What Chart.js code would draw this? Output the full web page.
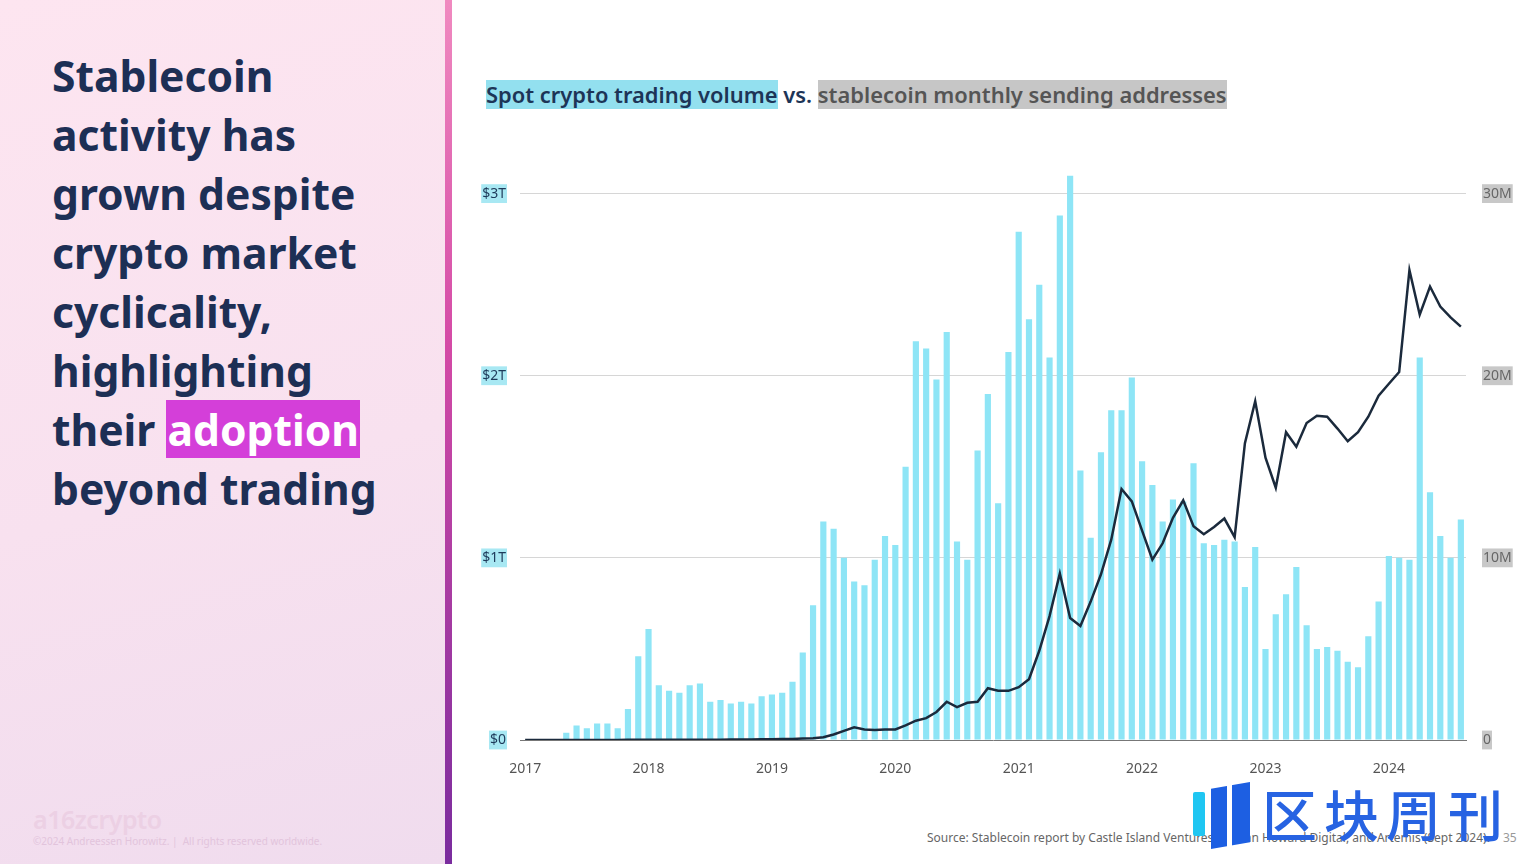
<!DOCTYPE html>
<html>
<head>
<meta charset="utf-8">
<script src="https://cdn.jsdelivr.net/npm/chart.js@4.4.1/dist/chart.umd.min.js"></script>
<style>
  body { margin: 0; width: 1536px; height: 864px; overflow: hidden; background: #fff; font-family: "Noto Sans", sans-serif; position: relative; }
  .left { position: absolute; left: 0; top: 0; width: 445px; height: 864px;
    background: linear-gradient(165deg, #fde5f0 0%, #f8e1ef 55%, #f0dcee 100%); }
  .divider { position: absolute; left: 445px; top: 0; width: 7px; height: 864px;
    background: linear-gradient(to bottom, #f08ac0 0%, #d44aa6 40%, #7a2c9e 100%); }
  .headline { position: absolute; left: 52px; top: 46px; font-size: 42.6px; line-height: 59px; font-weight: 700; color: #1d2f55; }
  .hl { background: #d43fd9; color: #fff; padding: 0 1px; }
  .ctitle { position: absolute; left: 486px; top: 80px; font-size: 21.9px; font-weight: 600; color: #1d3557; white-space: nowrap; }
  .ctitle .a { background: #93e0ef; }
  .ctitle .b { background: #c6c6c6; color: #555; }
  #wrap { position: absolute; left: 470px; top: 153px; width: 1056px; height: 627px; }
  .logo1 { position: absolute; left: 33px; top: 802px; font-size: 25px; font-weight: 600; color: #ecd0e4; letter-spacing: -0.5px; }
  .copy { position: absolute; left: 33px; top: 834px; font-size: 10px; color: #e2c4dc; }
  .source { position: absolute; left: 927px; top: 829px; font-size: 12px; color: #666; white-space: nowrap; }
  .page { position: absolute; left: 1503px; top: 829px; font-size: 12px; color: #999; }
  .wm1 { position: absolute; left: 1193px; top: 792px; width: 12px; height: 44px; background: #1fc6f2; border-radius: 2px; }
  .wm2 { position: absolute; left: 1211px; top: 782px; width: 39px; height: 67px; background: #1d5fe2;
    clip-path: polygon(0 10%, 100% 0, 100% 90%, 0 100%); }
  .wm3 { position: absolute; left: 1227px; top: 780px; width: 5px; height: 72px; background: #fff; }
  .wmt { position: absolute; left: 1262px; top: 772px; font-family: "Noto Sans CJK SC", sans-serif; font-size: 55px; font-weight: 500; color: #2763e2; letter-spacing: 7px; white-space: nowrap; }
</style>
</head>
<body>
<div class="left"></div>
<div class="divider"></div>
<div class="headline">Stablecoin<br>activity has<br>grown despite<br>crypto market<br>cyclicality,<br>highlighting<br>their <span class="hl">adoption</span><br>beyond trading</div>
<div class="logo1">a16zcrypto</div>
<div class="copy">©2024 Andreessen Horowitz. | &nbsp;All rights reserved worldwide.</div>

<div class="ctitle"><span class="a">Spot crypto trading volume</span> vs. <span class="b">stablecoin monthly sending addresses</span></div>
<div id="wrap"><canvas id="canvas" width="1056" height="627"></canvas></div>

<div class="source">Source: Stablecoin report by Castle Island Ventures, Brevan Howard Digital, and Artemis (Sept 2024).</div>
<div class="page">35</div>
<div class="wm1"></div>
<div class="wm2"></div>
<div class="wm3"></div>
<div class="wmt">区块周刊</div>

<script>
// tick labels (one per January)
var years = ['2017', '2018', '2019', '2020', '2021', '2022', '2023', '2024'];

// spot trading volume, $T per month, Jan 2017 - Aug 2024
var volume = [
  0, 0, 0, 0, 0.04, 0.08, 0.065, 0.09, 0.09, 0.065, 0.17, 0.46,
  0.61, 0.30, 0.27, 0.26, 0.30, 0.31, 0.21, 0.22, 0.20, 0.21, 0.20, 0.24,
  0.25, 0.26, 0.32, 0.48, 0.74, 1.20, 1.16, 1.00, 0.87, 0.85, 0.99, 1.12,
  1.07, 1.50, 2.19, 2.15, 1.98, 2.24, 1.09, 0.99, 1.59, 1.90, 1.30, 2.13,
  2.79, 2.31, 2.50, 2.10, 2.88, 3.10, 1.48, 1.11, 1.58, 1.81, 1.81, 1.99,
  1.53, 1.40, 1.20, 1.32, 1.31, 1.52, 1.08, 1.07, 1.10, 1.09, 0.84, 1.06,
  0.50, 0.69, 0.80, 0.95, 0.63, 0.50, 0.51, 0.49, 0.43, 0.40, 0.57, 0.76,
  1.01, 1.00, 0.99, 2.10, 1.36, 1.12, 1.00, 1.21
];

// stablecoin monthly sending addresses, millions
var senders = [
  0, 0, 0, 0, 0, 0, 0, 0, 0, 0, 0.01, 0.01,
  0.01, 0.01, 0.01, 0.02, 0.02, 0.02, 0.02, 0.02, 0.03, 0.03, 0.03, 0.04,
  0.04, 0.05, 0.06, 0.08, 0.10, 0.15, 0.30, 0.50, 0.70, 0.58, 0.55, 0.57,
  0.58, 0.80, 1.06, 1.20, 1.54, 2.10, 1.80, 2.04, 2.10, 2.84, 2.70, 2.70,
  2.90, 3.34, 4.90, 6.80, 9.14, 6.70, 6.26, 7.60, 9.10, 11.0, 13.78, 13.1,
  11.5, 9.9, 10.8, 12.2, 13.16, 11.74, 11.3, 11.7, 12.16, 11.14, 16.3, 18.6,
  15.5, 13.85, 16.9, 16.1, 17.4, 17.8, 17.75, 17.1, 16.4, 16.9, 17.75, 18.9,
  19.56, 20.2, 25.8, 23.35, 24.9, 23.8, 23.2, 22.7
];

var months = [];
years.forEach(function (y) {
  for (var m = 1; m <= 12; m++) {
    if (months.length < volume.length) months.push(y + '-' + (m < 10 ? '0' + m : m));
  }
});

var tickFont = { family: 'Noto Sans', size: 14 };

var ctx = document.getElementById('canvas').getContext('2d');
new Chart(ctx, {
  data: {
    labels: months,
    datasets: [{
      type: 'line',
      label: 'Stablecoin monthly sending addresses',
      data: senders,
      yAxisID: 'y1',
      borderColor: '#1b2a3c',
      borderWidth: 2.5,
      pointRadius: 0,
      tension: 0,
      order: 0
    }, {
      type: 'bar',
      label: 'Spot crypto trading volume',
      data: volume,
      yAxisID: 'y',
      backgroundColor: '#8ee5f6',
      barPercentage: 0.6,
      categoryPercentage: 1.0,
      order: 1
    }]
  },
  options: {
    responsive: false,
    animation: false,
    layout: { padding: { top: 11 } },
    plugins: { legend: { display: false }, tooltip: { enabled: false } },
    scales: {
      x: {
        grid: { display: false },
        border: { color: '#777', dash: [4, 3] },
        ticks: {
          autoSkip: false, maxRotation: 0, padding: 13,
          color: '#555', font: { family: 'Noto Sans', size: 14 },
          callback: function (v) {
            var l = months[v];
            return l.slice(5) === '01' ? l.slice(0, 4) : '';
          }
        },
        afterFit: function (s) { s.height = 40; }
      },
      y: {
        position: 'left',
        min: 0, max: 3.1,
        border: { display: false },
        grid: {
          drawTicks: false,
          color: function (c) { return c.tick && c.tick.value === 0 ? 'rgba(0,0,0,0)' : '#d6d6d6'; }
        },
        afterBuildTicks: function (s) {
          s.ticks = [0, 1, 2, 3].map(function (v) { return { value: v }; });
        },
        ticks: {
          padding: 14, color: '#1e3a5a', font: tickFont,
          showLabelBackdrop: true, backdropColor: '#a8e8f3',
          backdropPadding: { top: 1, bottom: 1, left: 1, right: 1 },
          callback: function (v) { return v === 0 ? '$0' : '$' + v + 'T'; }
        },
        afterFit: function (s) { s.width = 50; }
      },
      y1: {
        position: 'right',
        min: 0, max: 31,
        border: { display: false },
        grid: { display: false },
        afterBuildTicks: function (s) {
          s.ticks = [0, 10, 20, 30].map(function (v) { return { value: v }; });
        },
        ticks: {
          padding: 9, color: '#666', font: tickFont,
          showLabelBackdrop: true, backdropColor: '#c8c8c8',
          backdropPadding: { top: 1, bottom: 1, left: 1, right: 1 },
          callback: function (v) { return v === 0 ? '0' : v + 'M'; }
        },
        afterFit: function (s) { s.width = 60; }
      }
    }
  }
});
</script>
</body>
</html>
